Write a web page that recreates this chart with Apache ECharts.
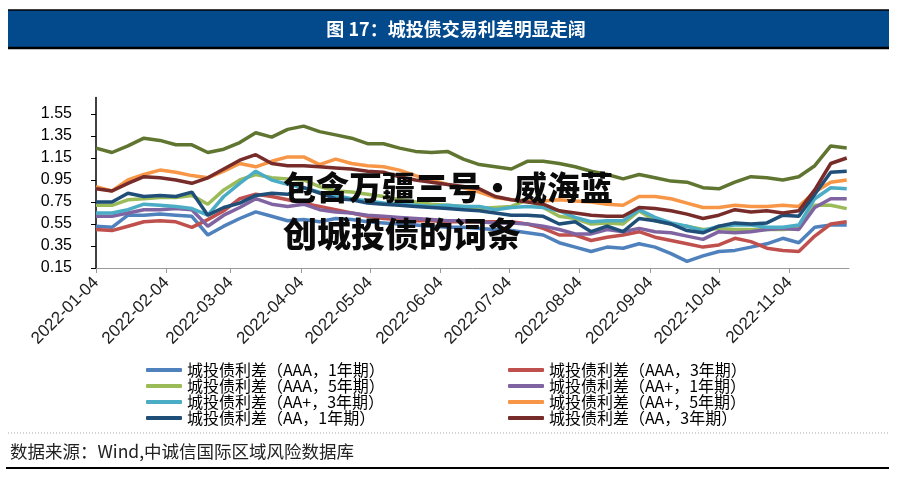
<!DOCTYPE html>
<html><head><meta charset="utf-8">
<script src="https://cdn.jsdelivr.net/npm/echarts@6/dist/echarts.min.js"></script>
<style>html,body{margin:0;padding:0;background:#fff;}#c{width:898px;height:479px;}</style>
</head><body><div id="c"></div>
<script>
const dates = ['2022-01-04','2022-01-11','2022-01-18','2022-01-25','2022-02-01','2022-02-08','2022-02-15','2022-02-22',
'2022-03-01','2022-03-08','2022-03-15','2022-03-22','2022-03-29','2022-04-05','2022-04-12','2022-04-19','2022-04-26',
'2022-05-03','2022-05-10','2022-05-17','2022-05-24','2022-05-31','2022-06-07','2022-06-14','2022-06-21','2022-06-28',
'2022-07-05','2022-07-12','2022-07-19','2022-07-26','2022-08-02','2022-08-09','2022-08-16','2022-08-23','2022-08-30',
'2022-09-06','2022-09-13','2022-09-20','2022-09-27','2022-10-04','2022-10-11','2022-10-18','2022-10-25','2022-11-01',
'2022-11-08','2022-11-15','2022-11-22','2022-11-29'];
const tickDates = ['2022-01-04','2022-02-04','2022-03-04','2022-04-04','2022-05-04','2022-06-04','2022-07-04','2022-08-04','2022-09-04','2022-10-04','2022-11-04'];
const startDate = '2022-01-04', endDate = '2022-11-30';
const yTicks = [0.15,0.35,0.55,0.75,0.95,1.15,1.35,1.55];

const aaa1 = [0.53,0.52,0.63,0.63,0.64,0.63,0.62,0.45,0.53,0.60,0.66,0.62,0.58,0.59,0.57,0.60,0.59,0.57,0.56,0.55,0.54,0.53,0.52,0.52,0.51,0.50,0.49,0.47,0.45,0.38,0.34,0.30,0.34,0.33,0.37,0.34,0.28,0.21,0.26,0.30,0.31,0.34,0.37,0.42,0.38,0.52,0.54,0.54];
const aaa3 = [0.50,0.49,0.53,0.57,0.58,0.57,0.52,0.59,0.67,0.78,0.82,0.80,0.77,0.74,0.71,0.68,0.65,0.62,0.60,0.59,0.58,0.58,0.57,0.57,0.57,0.57,0.57,0.55,0.51,0.45,0.45,0.40,0.43,0.45,0.48,0.43,0.40,0.37,0.34,0.36,0.42,0.39,0.33,0.31,0.30,0.44,0.55,0.57];
const aaa5 = [0.72,0.72,0.77,0.78,0.79,0.79,0.81,0.73,0.86,0.95,1.00,0.97,0.96,0.95,0.89,0.85,0.84,0.82,0.80,0.77,0.75,0.73,0.72,0.71,0.69,0.70,0.71,0.77,0.70,0.62,0.60,0.55,0.56,0.55,0.67,0.58,0.55,0.53,0.50,0.51,0.50,0.50,0.50,0.50,0.51,0.72,0.72,0.69];
const aap1 = [0.62,0.62,0.65,0.68,0.68,0.69,0.68,0.53,0.63,0.70,0.78,0.73,0.71,0.73,0.68,0.66,0.65,0.63,0.62,0.61,0.60,0.59,0.58,0.58,0.57,0.56,0.56,0.55,0.53,0.50,0.46,0.46,0.50,0.48,0.51,0.48,0.47,0.44,0.41,0.48,0.47,0.48,0.50,0.51,0.50,0.70,0.78,0.78];
const aap3 = [0.65,0.65,0.68,0.73,0.72,0.71,0.69,0.63,0.80,0.92,1.03,0.95,0.91,0.88,0.84,0.81,0.78,0.76,0.74,0.73,0.72,0.71,0.72,0.71,0.71,0.68,0.70,0.71,0.70,0.67,0.61,0.57,0.58,0.58,0.68,0.61,0.56,0.53,0.49,0.53,0.54,0.54,0.52,0.52,0.54,0.78,0.88,0.87];
const aap5 = [0.89,0.85,0.95,1.00,1.04,1.02,0.99,0.97,1.03,1.10,1.07,1.12,1.16,1.16,1.09,1.14,1.10,1.08,1.07,1.04,0.99,0.95,0.91,0.88,0.84,0.79,0.77,0.76,0.76,0.77,0.76,0.75,0.73,0.72,0.80,0.80,0.78,0.74,0.70,0.70,0.72,0.71,0.71,0.72,0.71,0.84,0.93,0.95];
const aa1 = [0.75,0.75,0.83,0.80,0.81,0.80,0.84,0.63,0.70,0.74,0.81,0.83,0.82,0.88,0.83,0.78,0.77,0.74,0.73,0.72,0.71,0.70,0.69,0.68,0.67,0.65,0.63,0.63,0.62,0.55,0.57,0.48,0.53,0.48,0.60,0.58,0.55,0.49,0.47,0.53,0.56,0.55,0.56,0.63,0.62,0.82,1.02,1.03];
const aa3 = [0.87,0.85,0.92,0.98,0.97,0.95,0.92,0.97,1.05,1.13,1.18,1.10,1.08,1.08,1.07,1.06,1.05,1.03,1.02,0.98,0.95,0.93,0.91,0.89,0.87,0.80,0.77,0.75,0.73,0.67,0.65,0.63,0.62,0.62,0.70,0.69,0.67,0.64,0.60,0.63,0.68,0.66,0.67,0.65,0.67,0.86,1.10,1.15];
const aa5 = [1.24,1.20,1.26,1.33,1.31,1.27,1.27,1.20,1.23,1.29,1.38,1.34,1.41,1.44,1.39,1.36,1.33,1.28,1.28,1.24,1.21,1.20,1.21,1.14,1.09,1.07,1.05,1.12,1.12,1.10,1.07,1.03,1.00,0.96,1.00,0.97,0.94,0.93,0.88,0.87,0.93,0.98,0.97,0.95,0.98,1.08,1.26,1.24];

const names = ['城投债利差（AAA，1年期）','城投债利差（AAA，3年期）','城投债利差（AAA，5年期）','城投债利差（AA+，1年期）',
  '城投债利差（AA+，3年期）','城投债利差（AA+，5年期）','城投债利差（AA，1年期）','城投债利差（AA，3年期）','城投债利差（AA，5年期）'];
const values = [aaa1, aaa3, aaa5, aap1, aap3, aap5, aa1, aa3, aa5];
const colors = ['#4f81bd','#c0504d','#9bbb59','#8064a2','#4bacc6','#f79646','#1f4e79','#772c2a','#5f7530'];

// day offset from the first date (UTC arithmetic)
const DAY = 86400000;
const t0 = Date.parse(startDate + 'T00:00:00Z');
const dayOf = d => Math.round((Date.parse(d + 'T00:00:00Z') - t0) / DAY);
const tickDays = tickDates.map(dayOf);
const labelOf = {};
tickDates.forEach((d, i) => { labelOf[tickDays[i]] = d; });

const chart = echarts.init(document.getElementById('c'), null, {renderer:'canvas'});
const series = names.map((n, i) => ({
  name: n, type: 'line', symbol: 'none', smooth: false,
  lineStyle: {width: 3.5, color: colors[i]}, itemStyle: {color: colors[i]},
  data: dates.map((d, j) => [dayOf(d), values[i][j]])
}));
const legendCommon = {orient:'vertical', top: 357, itemWidth: 36, itemHeight: 4, itemGap: 0, icon: 'roundRect',
  textStyle: {fontFamily: 'Noto Sans CJK SC', fontSize: 16, lineHeight: 16, color: '#000'}};
chart.setOption({
  animation: false,
  grid: {left: 96, right: 49, top: 97.5, bottom: 211, containLabel: false},
  xAxis: {type: 'value', min: 0, max: dayOf(endDate), splitLine: {show: false},
    axisLine: {lineStyle: {color: '#999', width: 1}},
    axisTick: {show: true, length: 5, lineStyle: {color: '#999'}, customValues: tickDays},
    axisLabel: {rotate: 45, margin: 12, color: '#222', fontFamily: 'Liberation Sans', fontSize: 17,
      customValues: tickDays, formatter: v => labelOf[v] || ''}},
  yAxis: {type: 'value', min: 0.15, max: 1.7, splitLine: {show: false},
    axisLine: {show: true, lineStyle: {color: '#000', width: 1.5}},
    axisTick: {show: true, length: 5, lineStyle: {color: '#000'}, customValues: yTicks},
    axisLabel: {customValues: yTicks, margin: 24, color: '#000', fontFamily: 'Liberation Sans', fontSize: 16,
      formatter: v => v.toFixed(2)}},
  legend: [
    Object.assign({left: 141, data: [names[0], names[2], names[4], names[6]]}, legendCommon),
    Object.assign({left: 503, data: [names[1], names[3], names[5], names[7]]}, legendCommon)
  ],
  series: series,
  graphic: [
    {type:'rect', shape:{x:8, y:10, width:881, height:37}, style:{fill:'#034a8c'}},
    {type:'line', shape:{x1:8, y1:10, x2:889, y2:10}, style:{stroke:'#000', lineWidth:1.5}},
    {type:'line', shape:{x1:8, y1:48, x2:889, y2:48}, style:{stroke:'#000', lineWidth:2.5}},
    {type:'text', x:456, y:29, style:{text:'图 17：城投债交易利差明显走阔', fill:'#fff', font:'bold 18px "Noto Sans CJK SC"', textAlign:'center', textVerticalAlign:'middle'}},
    {type:'line', shape:{x1:8, y1:433, x2:889, y2:433}, style:{stroke:'#aaa', lineWidth:1, lineDash:[1,2]}},
    {type:'text', x:10, y:451, style:{text:'数据来源：Wind,中诚信国际区域风险数据库', fill:'#222', font:'17.5px "Noto Sans CJK SC"', textVerticalAlign:'middle'}},
    {type:'line', shape:{x1:6, y1:468, x2:889, y2:468}, style:{stroke:'#000', lineWidth:2}},
    {type:'text', x:283, y:187, z:100, style:{text:'包含万疆三号·威海蓝', fill:'#0a0a0a', font:'900 33px "Noto Sans CJK SC"', textVerticalAlign:'middle'}},
    {type:'text', x:283, y:234, z:100, style:{text:'创城投债的词条', fill:'#0a0a0a', font:'900 34px "Noto Sans CJK SC"', textVerticalAlign:'middle'}}
  ]
});
</script></body></html>
